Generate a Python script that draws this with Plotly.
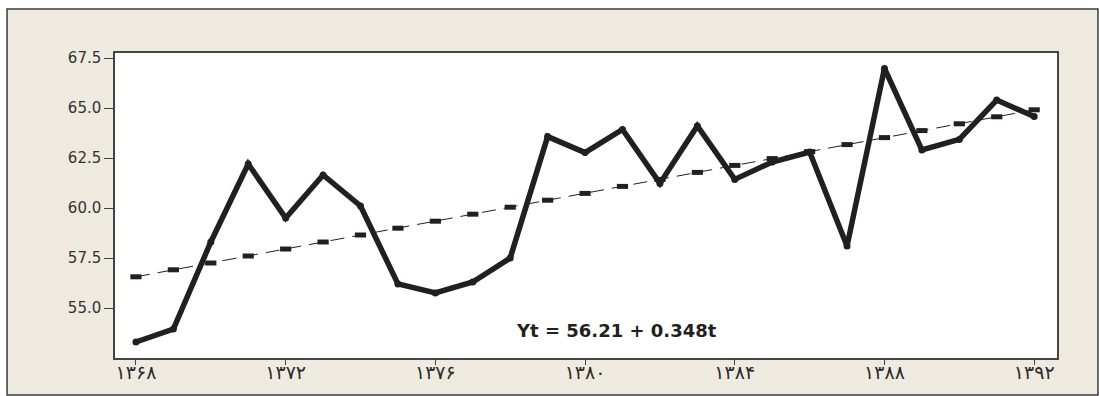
import plotly.graph_objects as go

# Observed series, 1368-1392
years = list(range(1368, 1393))
values = [53.30, 53.95, 58.30, 62.20, 59.50, 61.65, 60.10, 56.20, 55.75, 56.30,
          57.50, 63.57, 62.77, 63.93, 61.23, 64.10, 61.43, 62.30, 62.80, 58.10,
          66.98, 62.90, 63.43, 65.40, 64.57]

# Fitted linear trend, Yt = 56.21 + 0.348t
trend = [56.56, 56.91, 57.25, 57.60, 57.95, 58.30, 58.65, 58.99, 59.34, 59.69,
         60.04, 60.39, 60.73, 61.08, 61.43, 61.78, 62.13, 62.47, 62.82, 63.17,
         63.52, 63.87, 64.21, 64.56, 64.91]

x_tick_vals = [1368, 1372, 1376, 1380, 1384, 1388, 1392]
x_tick_text = ["۱۳۶۸", "۱۳۷۲", "۱۳۷۶", "۱۳۸۰", "۱۳۸۴", "۱۳۸۸", "۱۳۹۲"]
y_tick_vals = [55.0, 57.5, 60.0, 62.5, 65.0, 67.5]

equation = "Yt = 56.21 + 0.348t"

INK = "#231F20"
PANEL = "#EEEAE0"

fig = go.Figure()

fig.add_trace(go.Scatter(
    x=years, y=trend, mode="lines+markers",
    line=dict(color=INK, width=1, dash="14px,8px"),
    marker=dict(symbol="line-ew", size=8, line=dict(color=INK, width=5)),
    hoverinfo="skip", showlegend=False,
))

fig.add_trace(go.Scatter(
    x=years, y=values, mode="lines+markers",
    line=dict(color=INK, width=5.5),
    marker=dict(symbol="circle", size=7, color=INK),
    showlegend=False,
))

fig.add_annotation(
    x=1380.83, y=53.9, xref="x", yref="y", text=equation, showarrow=False,
    font=dict(family="DejaVu Sans", size=18, color=INK, weight="bold"),
)

# Beige framed panel behind the plot, with the white plotting area on top
fig.add_shape(type="rect", xref="paper", yref="paper",
              x0=-0.1146, x1=1.0435, y0=-0.1213, y1=1.1443,
              fillcolor=PANEL, line=dict(color="#3a3a3a", width=1.5), layer="below")
fig.add_shape(type="rect", xref="paper", yref="paper",
              x0=0, x1=1, y0=0, y1=1,
              fillcolor="white", line=dict(width=0), layer="below")

fig.update_xaxes(
    range=[1367.44, 1392.61], tickvals=x_tick_vals, ticktext=x_tick_text,
    showgrid=False, zeroline=False, automargin=False,
    showline=True, linecolor="#444", linewidth=1.5, mirror=True,
    ticks="outside", ticklen=5, tickwidth=1.2, tickcolor="#444",
    ticklabelstandoff=-9,
    tickfont=dict(family="DejaVu Sans", size=19, color="#2a2a2a"),
)
fig.update_yaxes(
    range=[52.5, 67.75], tickvals=y_tick_vals, tickformat=".1f",
    showgrid=False, zeroline=False, automargin=False,
    showline=True, linecolor="#444", linewidth=1.5, mirror=True,
    ticks="outside", ticklen=9, tickwidth=1.2, tickcolor="#444",
    tickfont=dict(family="DejaVu Sans", size=15, color="#333"),
)

fig.update_layout(
    width=1099, height=396,
    margin=dict(l=115, r=42, t=53, b=38, pad=0),
    paper_bgcolor="white", plot_bgcolor="white",
)

fig.write_html("out.html")
